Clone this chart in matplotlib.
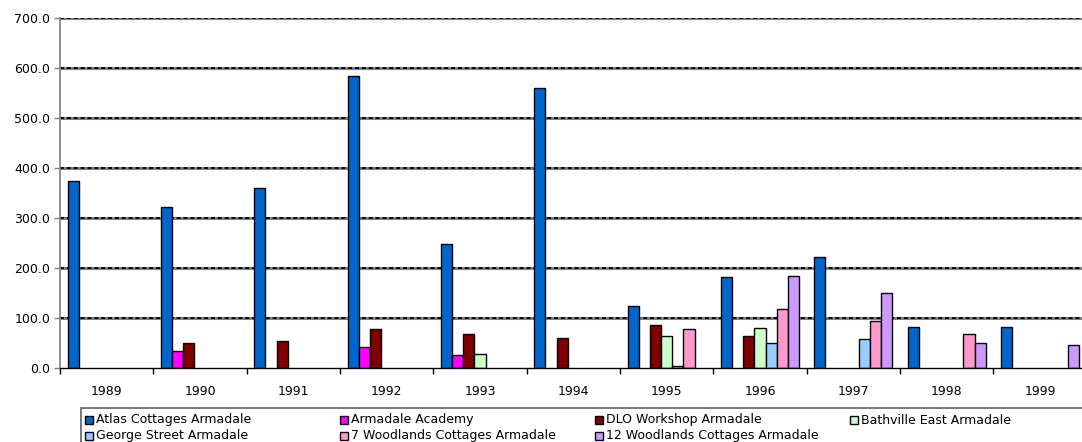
import numpy as np
import matplotlib
matplotlib.use("Agg")
import matplotlib.pyplot as plt
from matplotlib.patches import Rectangle

years = ["1989", "1990", "1991", "1992", "1993", "1994", "1995", "1996", "1997", "1998", "1999"]

series_names = ["Atlas Cottages Armadale", "Armadale Academy", "DLO Workshop Armadale",
                "Bathville East Armadale", "George Street Armadale",
                "7 Woodlands Cottages Armadale", "12 Woodlands Cottages Armadale"]

atlas      = [375, 323, 361, 585, 248, 560, 125, 183, 222, 82, 83]
academy    = [None, 34, None, 43, 27, None, None, None, None, None, None]
dlo        = [None, 51, 55, 79, 69, 61, 87, 64, None, None, None]
bathville  = [None, None, None, None, 29, None, 65, 81, None, None, None]
george     = [None, None, None, None, None, None, 5, 51, 59, None, None]
woodlands7 = [None, None, None, None, None, None, 79, 119, 94, 69, None]
woodlands12 = [None, None, None, None, None, None, None, 185, 151, 51, 47]

colors = ["#0066CC", "#FF00FF", "#800000", "#CCFFCC", "#99CCFF", "#FF99CC", "#CC99FF"]
all_series = [atlas, academy, dlo, bathville, george, woodlands7, woodlands12]

W, H = 1082, 442
plt.rcParams['font.family'] = ['DejaVu Sans']
fig = plt.figure(figsize=(W / 100, H / 100), dpi=100)
ax = fig.add_axes([60 / W, (H - 368) / H, 1026.7 / W, 350 / H])

x = np.arange(len(years))
n = len(all_series)
bw = 1 / (n + 1.36)

# gridlines: grey band with black dashes over it
for v in range(100, 701, 100):
    ax.axhline(v, color="#808080", lw=2.2, zorder=1)
    ax.axhline(v, color="black", lw=1.3, ls=(0, (2.2, 1.6)), zorder=1.1)

for i, (vals, c) in enumerate(zip(all_series, colors)):
    h = np.array([np.nan if v is None else v for v in vals], dtype=float)
    m = ~np.isnan(h)
    ax.bar(x[m] + (i - 3) * bw, h[m], width=bw, color=c, edgecolor="black",
           linewidth=1.0, zorder=3)

ax.set_xlim(-0.5, len(years) - 0.5)
ax.set_ylim(0, 700)
ax.set_yticks(np.arange(0, 701, 100))
ax.set_yticklabels([f"{v:.1f}" for v in range(0, 701, 100)], fontsize=9)
ax.set_xticks(x)
ax.set_xticklabels(years, fontsize=9)
ax.set_xticks(np.arange(-0.5, len(years)), minor=True)
ax.tick_params(axis="x", which="major", length=0, pad=12)
ax.tick_params(axis="x", which="minor", length=4, width=1, color="black")
ax.tick_params(axis="y", length=4, width=1, color="#808080", pad=3)

for s in ["top", "right"]:
    ax.spines[s].set_visible(False)
ax.spines["left"].set_color("#808080")
ax.spines["left"].set_linewidth(1.2)
ax.spines["bottom"].set_color("black")
ax.spines["bottom"].set_linewidth(1.0)
ax.spines["bottom"].set_zorder(4)

# legend drawn by hand so the four columns are evenly spaced
def fx(px):
    return px / W

def fy(py):
    return 1 - py / H

fig.patches.append(Rectangle((fx(80.7), fy(460)), fx(1100) - fx(80.7), fy(407.7) - fy(460),
                             transform=fig.transFigure, fill=False, edgecolor="#606060",
                             lw=1.2, clip_on=False))
for i, (name, c) in enumerate(zip(series_names, colors)):
    col, row = i % 4, i // 4
    x0 = 85 + 255 * col
    yc = 420 + 16 * row
    fig.patches.append(Rectangle((fx(x0), fy(yc + 4)), 8 / W, 8 / H,
                                 transform=fig.transFigure, facecolor=c,
                                 edgecolor="black", lw=1.0))
    fig.text(fx(x0 + 11), fy(yc), name, fontsize=9, va="center", ha="left")

fig.savefig("out.png", dpi=100)
